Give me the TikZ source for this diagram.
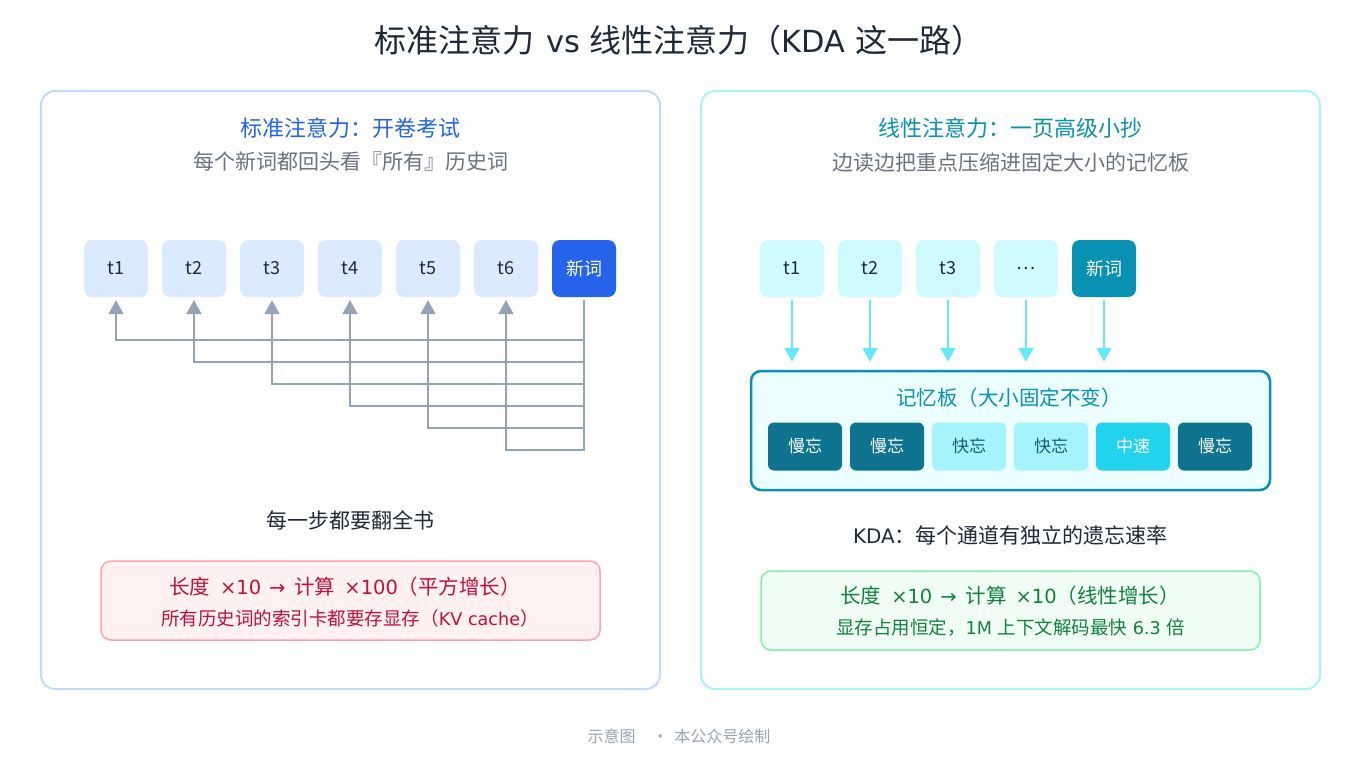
\documentclass[tikz,border=0pt]{standalone}
\usepackage{fontspec}
\setmainfont{Noto Sans CJK SC}
\setsansfont{Noto Sans CJK SC}
\newfontfamily\latn[Scale=0.95]{DejaVu Sans}
\usetikzlibrary{arrows.meta,positioning}

\definecolor{inkdark}{HTML}{1F2937}
\definecolor{inkgray}{HTML}{6B7280}
\definecolor{footgray}{HTML}{9CA3AF}
\definecolor{stdblue}{HTML}{2563EB}
\definecolor{stdedge}{HTML}{BFDBFE}
\definecolor{stdtok}{HTML}{DBEAFE}
\definecolor{callgray}{HTML}{94A3B8}
\definecolor{lintel}{HTML}{0891B2}
\definecolor{linedge}{HTML}{A5F3FC}
\definecolor{lintok}{HTML}{CFFAFE}
\definecolor{memarrow}{HTML}{67E8F9}
\definecolor{boardfill}{HTML}{ECFEFF}
\definecolor{slowcell}{HTML}{0E7490}
\definecolor{fastcell}{HTML}{A5F3FC}
\definecolor{fasttext}{HTML}{155E75}
\definecolor{midcell}{HTML}{22D3EE}
\definecolor{redfill}{HTML}{FFF1F2}
\definecolor{rededge}{HTML}{FDA4AF}
\definecolor{redtext}{HTML}{BE123C}
\definecolor{greenfill}{HTML}{F0FDF4}
\definecolor{greenedge}{HTML}{86EFAC}
\definecolor{greentext}{HTML}{15803D}

\newcommand{\fsz}[1]{\fontsize{#1}{#1}\selectfont}
\newcommand{\latw}[1]{{\latn #1}}
\newcommand{\gap}[1]{\hspace{#1pt}}

\tikzset{
  panel/.style={draw, line width=2pt, rounded corners=14pt, fill=white,
    minimum width=619pt, minimum height=598pt, inner sep=0pt},
  tok/.style={rounded corners=8pt, minimum width=64pt, minimum height=57pt,
    inner sep=0pt, font=\fsz{18}, text=inkdark},
  cell/.style={rounded corners=6pt, minimum width=74pt, minimum height=48pt,
    inner sep=0pt, font=\fsz{17}},
  callarr/.style={draw=callgray, line width=2.2pt,
    -{Triangle[length=14pt,width=15pt]}},
  memarr/.style={draw=memarrow, line width=2.5pt,
    -{Triangle[length=14pt,width=15pt]}},
  notebox/.style={draw, line width=1.5pt, rounded corners=10pt,
    minimum width=499pt, minimum height=79pt, inner sep=0pt},
}

\begin{document}
\begin{tikzpicture}[x=1pt,y=-1pt]
  \useasboundingbox[fill=white] (0,0) rectangle (1360,760);

  % title
  \node[font=\fsz{32}, text=inkdark] (title) at (679,40) {标准注意力\latw{\gap{12}vs\gap{9}}线性注意力（\latw{KDA\gap{10}}这一路）};

  % left panel: standard attention
  \node[panel, draw=stdedge] (lpanel) at (350.5,390) {};
  \node[font=\fsz{22}, text=stdblue] (lhead) at (350.5,128) {标准注意力：开卷考试};
  \node[font=\fsz{21}, text=inkgray] (lsub) at (350.5,162) {每个新词都回头看『所有』历史词};

  \foreach \i in {1,...,6}{
    \pgfmathsetmacro{\x}{116+78*(\i-1)}
    \node[tok, fill=stdtok] (lt\i) at (\x,268.5) {t\i};
  }
  \node[tok, fill=stdblue, text=white] (lnew) at (584,268.5) {新词};

  \foreach \i in {1,...,6}{
    \pgfmathsetmacro{\drop}{40+22*(\i-1)}
    \draw[callarr] ([yshift=-3pt]lnew.south) -- ++(0,\drop) -| ([yshift=-3pt]lt\i.south);
  }

  \node[font=\fsz{21}, text=inkdark] (lnote) at (350.5,520) {每一步都要翻全书};

  \node[notebox, draw=rededge, fill=redfill] (lcost) at (350.5,600.5) {};
  \node[font=\fsz{20.5}, text=redtext] (lcost1) at (345,587)
    {长度\latw{\gap{10}×10\gap{8}→\gap{9}}计算\latw{\gap{9}×100}（平方增长）};
  \node[font=\fsz{18.5}, text=redtext] (lcost2) at (350,618) {所有历史词的索引卡都要存显存（\latw{KV cache}）};

  % right panel: linear attention
  \node[panel, draw=linedge] (rpanel) at (1010.5,390) {};
  \node[font=\fsz{22}, text=lintel] (rhead) at (1010.5,128) {线性注意力：一页高级小抄};
  \node[font=\fsz{21}, text=inkgray] (rsub) at (1010.5,162) {边读边把重点压缩进固定大小的记忆板};

  \foreach \lab [count=\i] in {t1,t2,t3,…}{
    \pgfmathsetmacro{\x}{792+78*(\i-1)}
    \node[tok, fill=lintok] (rt\i) at (\x,268.5) {\lab};
  }
  \node[tok, fill=lintel, text=white] (rt5) at (1104,268.5) {新词};

  \node[draw=lintel, line width=2.5pt, fill=boardfill, rounded corners=10pt,
    minimum width=519pt, minimum height=119pt, inner sep=0pt] (board) at (1010.5,430.5) {};
  \node[font=\fsz{20.5}, text=lintel] (boardtitle) at (1009,398) {记忆板（大小固定不变）};

  \foreach \i in {1,...,5}{
    \draw[memarr] ([yshift=-3pt]rt\i.south) -- ([yshift=8pt]rt\i.south |- board.north);
  }

  \foreach \lab/\fc/\tc [count=\i] in {慢忘/slowcell/white, 慢忘/slowcell/white,
      快忘/fastcell/fasttext, 快忘/fastcell/fasttext, 中速/midcell/white, 慢忘/slowcell/white}{
    \pgfmathsetmacro{\x}{805+82*(\i-1)}
    \node[cell, fill=\fc, text=\tc] (cell\i) at (\x,446.5) {\lab};
  }

  \node[font=\fsz{21}, text=inkdark] (rnote) at (1010.5,535) {\latw{KDA}：每个通道有独立的遗忘速率};

  \node[notebox, draw=greenedge, fill=greenfill] (rcost) at (1010.5,610.5) {};
  \node[font=\fsz{20.5}, text=greentext] (rcost1) at (1010,596)
    {长度\latw{\gap{10}×10\gap{8}→\gap{9}}计算\latw{\gap{9}×10}（线性增长）};
  \node[font=\fsz{18.5}, text=greentext] (rcost2) at (1010.5,628) {显存占用恒定，\latw{1M }上下文解码最快\latw{ 6.3 }倍};

  % footer
  \node[font=\fsz{16}, text=footgray] (foot) at (679,736) {示意图\gap{17}·\gap{6}本公众号绘制};
\end{tikzpicture}
\end{document}
